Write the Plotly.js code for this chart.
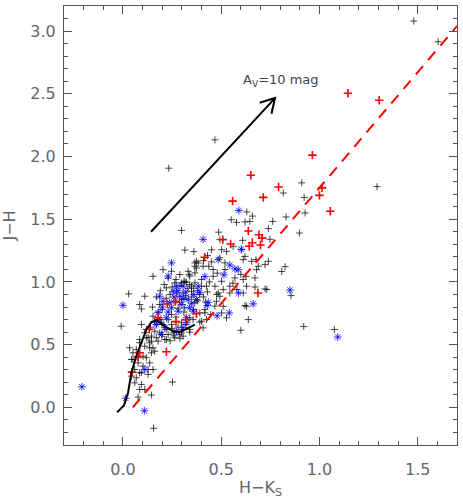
<!DOCTYPE html>
<html>
<head>
<meta charset="utf-8">
<script src="https://cdn.plot.ly/plotly-3.0.1.min.js"></script>
<style>html,body{margin:0;padding:0;background:#fff;}#chart{width:463px;height:504px;}</style>
</head>
<body>
<div id="chart"></div>
<script>
// ---- data (H-Ks, J-H) ----
const blackHK = [1.48,1.604,0.468,0.233,0.91,0.816,0.922,0.927,0.83,0.762,0.74,0.898,0.748,0.723,1.293,0.808,0.825,0.723,0.92,1.076,0.855,
0.298,0.487,0.63,0.659,0.551,0.578,0.621,0.646,0.493,0.315,0.361,0.383,0.374,0.451,0.502,0.561,0.609,0.604,0.527,0.621,0.612,0.655,0.677,0.74,0.689,0.68,0.672,0.626,0.612,0.629,0.544,0.502,0.485,0.476,0.51,0.621,0.638,0.60,0.391,0.298,
0.252,0.156,0.145,0.111,0.077,0.085,0.06,-0.009,0.029,0.085,0.094,0.111,0.153,0.204,0.247,0.119,0.145,0.136,0.162,0.128,0.153,0.136,0.085,0.051,0.043,0.06,0.068,0.085,0.111,0.119,0.102,0.077,
0.408,0.34,0.221,0.187,0.204,0.255,0.286,0.391,0.357,0.425,0.447,0.417,0.502,0.527,0.57,0.437,0.459,0.425,0.40,0.366,0.337,0.323,0.349,0.298,0.544,0.612,0.672,0.629,0.732,0.468,0.51,0.477,0.459,0.519,0.493,0.374,0.366,0.408,0.519,
0.289,0.332,0.34,0.366,0.315,0.366,0.264,0.221,0.272,0.306,0.349,0.40,0.187,0.247,0.289,0.366,0.315,0.153,0.196,0.247,0.298,0.34,0.40,0.417,0.162,0.23,0.264,0.306,0.128,0.094,0.213,0.179,0.493,0.468,
0.17,0.136,0.153,0.145,0.119,0.077,0.043,0.102,0.094,0.128,0.068,0.094,0.034,0.051,0.085,0.111,0.145,
0.20,0.22,0.24,0.26,0.28,0.30,0.32,0.33,0.35,0.36,0.38,0.38,0.31,0.27,0.23,0.25,0.28,0.30,0.32,0.34,0.22,0.19,0.17,0.18,0.21,0.25,0.29,0.31,0.27,0.23,0.34,0.36,0.39,0.41,0.43,0.42,0.44,0.20,0.26,0.24,0.29,0.16,0.14,0.15,0.17,0.19,
0.56,0.60,0.58,0.48,0.45,0.41,0.43];
const blackJH = [3.08,2.915,2.133,1.907,1.79,1.709,1.674,1.55,1.518,1.483,1.425,1.39,1.34,1.138,1.76,1.083,1.122,0.944,0.645,0.621,0.891,
1.411,1.397,1.558,1.525,1.496,1.475,1.478,1.483,1.337,1.254,1.242,1.151,1.111,1.256,1.257,1.284,1.332,1.258,1.244,1.204,1.178,1.165,1.178,1.165,1.125,1.098,1.032,1.045,1.019,0.966,0.966,1.005,0.912,0.846,0.806,0.812,0.70,0.615,0.679,0.594,
0.202,-0.167,0.098,0.143,0.082,0.143,0.196,0.647,0.905,0.82,0.785,0.886,1.045,1.098,1.085,0.621,0.528,0.475,0.448,0.302,0.302,0.355,0.276,0.382,0.249,0.302,0.462,0.515,0.488,0.554,0.408,0.355,
0.634,0.621,0.541,0.594,0.66,0.594,0.581,0.753,0.70,0.70,0.74,0.78,0.753,0.714,1.032,1.125,1.045,0.966,1.019,1.072,1.058,0.997,0.966,0.992,0.912,0.912,0.96,0.806,0.94,0.966,0.94,0.90,1.099,1.099,1.192,1.165,1.125,1.125,1.152,
1.059,1.085,1.046,1.152,1.006,0.993,0.993,0.953,0.913,0.913,0.926,0.966,0.82,0.74,0.834,0.834,0.794,0.727,0.674,0.661,0.674,0.714,0.687,0.754,0.607,0.581,0.555,0.568,0.555,0.661,0.541,0.528,0.886,0.807,
0.555,0.515,0.475,0.435,0.396,0.396,0.382,0.329,0.276,0.263,0.236,0.183,0.475,0.435,0.541,0.595,0.568,
0.78,0.87,0.90,0.84,0.79,0.86,0.89,0.95,0.88,0.78,0.85,0.93,0.76,0.72,0.70,0.63,0.64,0.62,0.66,0.60,0.62,0.70,0.66,0.76,0.98,0.96,0.97,1.00,1.02,1.03,0.98,0.95,0.90,0.88,0.92,0.84,1.00,0.58,0.57,0.53,0.55,0.68,0.64,0.80,0.88,0.93,
0.99,1.06,0.94,1.07,1.16,1.17,1.21];

const blueHK = [-0.209,0.0,0.014,0.109,0.111,0.247,0.23,0.408,0.59,0.602,0.587,0.57,0.544,0.485,0.514,0.417,0.391,0.434,0.429,0.588,0.663,0.541,0.479,0.85,1.093,0.325,
0.187,0.204,0.238,0.255,0.289,0.306,0.332,0.34,0.357,0.281,0.221,0.179,0.17,0.213,0.196,0.306,0.272,0.374,0.383,0.272,0.247,0.323,
0.26,0.30,0.32,0.36,0.23,0.28,0.35,0.31,0.20,0.18];
const blueJH = [0.164,0.814,0.072,-0.027,0.302,1.152,1.046,1.340,1.57,1.26,1.098,1.104,1.135,1.178,1.057,1.043,0.915,0.837,0.812,0.912,0.825,0.753,0.73,0.935,0.561,0.679,
0.886,0.846,0.834,0.926,0.886,0.966,0.86,0.794,0.767,0.767,0.714,0.754,0.661,0.635,0.581,0.635,0.607,0.86,0.966,0.966,0.794,0.714,
0.88,0.82,0.92,0.90,0.76,0.93,0.83,0.87,0.80,0.70];

const redHK = [1.145,1.304,0.964,0.651,0.792,1.013,1.0,0.714,0.558,1.055,0.638,0.508,0.548,0.658,0.692,0.708,0.700,0.643,0.416,0.687,0.374,0.32,0.27,0.268,0.226,0.179,0.134,0.221,0.085,0.077,0.046];
const redJH = [2.504,2.448,2.011,1.851,1.757,1.75,1.69,1.674,1.644,1.564,1.406,1.337,1.302,1.313,1.376,1.349,1.295,1.284,1.197,0.912,0.746,0.698,0.684,0.846,0.824,0.714,0.623,0.443,0.435,0.403,0.281];

// intrinsic dwarf sequence
const seqHK = [-0.03,0.005,0.026,0.043,0.068,0.094,0.119,0.145,0.17,0.213,0.255,0.289,0.332,0.366];
const seqJH = [-0.04,0.016,0.117,0.276,0.41,0.515,0.62,0.68,0.695,0.647,0.607,0.60,0.634,0.66];

// reddening boundary line
const redLineHK = [0.05,1.70];
const redLineJH = [0.0,3.04];

// reddening vector A_V = 10 mag
const avStart = [0.143,1.40];
const avEnd = [0.774,2.466];
const avLabel = 'A<sub>V</sub>=10 mag';

const xTitle = 'H\u2212K<sub>S</sub>';
const yTitle = 'J\u2212H';
const xRange = [-0.3,1.7];
const yRange = [-0.3,3.2];

// ---- layout geometry ----
const W = 463, H = 504;
const M = {l:64, r:6, t:6, b:59};
const plotW = W - M.l - M.r, plotH = H - M.t - M.b;
const pxX = plotW/(xRange[1]-xRange[0]);
const pxY = plotH/(yRange[1]-yRange[0]);

// arrow head arms computed in pixel space
function headArm(angleDeg, len){
  const bx = (avStart[0]-avEnd[0])*pxX, by = (avStart[1]-avEnd[1])*pxY;
  const n = Math.hypot(bx,by);
  const ux = bx/n, uy = by/n;
  const a = angleDeg*Math.PI/180;
  const rx = ux*Math.cos(a) - uy*Math.sin(a);
  const ry = ux*Math.sin(a) + uy*Math.cos(a);
  return [avEnd[0] + rx*len/pxX, avEnd[1] + ry*len/pxY];
}
const h1 = headArm(30,16), h2 = headArm(-30,16);

const tickFont = {family:'DejaVu Sans, sans-serif', size:16, color:'#666'};

const traces = [
  {x:blackHK, y:blackJH, mode:'markers', type:'scatter',
   marker:{symbol:'cross-thin-open', size:5, line:{width:1, color:'rgba(0,0,0,0.72)'}, color:'rgba(0,0,0,0.72)'}},
  {x:blueHK, y:blueJH, mode:'markers', type:'scatter',
   marker:{symbol:'asterisk-open', size:6.5, line:{width:1, color:'rgba(0,0,255,0.8)'}, color:'rgba(0,0,255,0.8)'}},
  {x:redHK, y:redJH, mode:'markers', type:'scatter',
   marker:{symbol:'cross-thin-open', size:6, line:{width:1.6, color:'#ff0000'}, color:'#ff0000'}},
  {x:seqHK, y:seqJH, mode:'lines', type:'scatter', line:{color:'#000', width:2}},
  {x:redLineHK, y:redLineJH, mode:'lines', type:'scatter', line:{color:'#ff0000', width:2, dash:'11px,8px'}},
  {x:[avStart[0],avEnd[0],null,h1[0],avEnd[0],h2[0]], y:[avStart[1],avEnd[1],null,h1[1],avEnd[1],h2[1]],
   mode:'lines', type:'scatter', line:{color:'#000', width:2}}
];

const axisCommon = {
  showgrid:false, zeroline:false, showline:true, linecolor:'#555', linewidth:1,
  mirror:'ticks', ticks:'inside', ticklen:8, tickwidth:1, tickcolor:'#555',
  tickfont:tickFont, tickformat:'.1f', dtick:0.5, fixedrange:true,
  minor:{dtick:0.1, ticks:'inside', ticklen:4, tickcolor:'#555', tickwidth:1}
};

const layout = {
  width:W, height:H, margin:M, showlegend:false,
  paper_bgcolor:'#fff', plot_bgcolor:'#fff',
  font:tickFont,
  xaxis:Object.assign({}, axisCommon, {range:xRange, tick0:0, ticklabelstandoff:10,
     title:{text:xTitle, font:{family:'DejaVu Sans, sans-serif', size:16, color:'#666'}, standoff:3}}),
  yaxis:Object.assign({}, axisCommon, {range:yRange, tick0:0, ticklabelstandoff:4,
     title:{text:yTitle, font:{family:'DejaVu Sans, sans-serif', size:16, color:'#666'}, standoff:10}}),
  annotations:[{x:0.602, y:2.61, xref:'x', yref:'y', text:avLabel, showarrow:false, xanchor:'left', yanchor:'middle',
     font:{family:'DejaVu Sans, sans-serif', size:13, color:'#444'}}]
};

Plotly.newPlot('chart', traces, layout, {displayModeBar:false, staticPlot:true});
</script>
</body>
</html>
